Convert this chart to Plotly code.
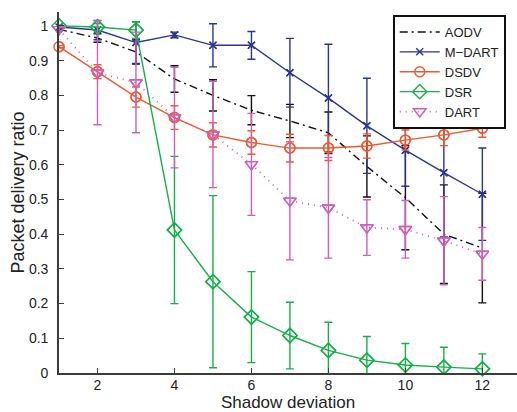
import plotly.graph_objects as go

# Shadow deviation values on the x axis
shadow_dev = [1, 2, 3, 4, 5, 6, 7, 8, 9, 10, 11, 12]

# Mean packet delivery ratio per protocol, with symmetric error half-widths
aodv_pdr = [0.99, 0.965, 0.925, 0.847, 0.80, 0.757, 0.726, 0.692, 0.595, 0.505, 0.40, 0.36]
aodv_err = [0.005, 0.012, 0.035, 0.038, 0.045, 0.042, 0.048, 0.06, 0.088, 0.15, 0.142, 0.158]

mdart_pdr = [0.997, 0.988, 0.952, 0.974, 0.944, 0.944, 0.865, 0.792, 0.712, 0.642, 0.577, 0.515]
mdart_err = [0.003, 0.028, 0.06, 0.008, 0.062, 0.04, 0.099, 0.155, 0.137, 0.104, 0.185, 0.133]

dsdv_pdr = [0.94, 0.868, 0.795, 0.736, 0.686, 0.664, 0.648, 0.648, 0.654, 0.671, 0.686, 0.705]
dsdv_err = [0.003, 0.02, 0.029, 0.034, 0.035, 0.034, 0.04, 0.036, 0.035, 0.029, 0.031, 0.026]

dsr_pdr = [1.0, 0.997, 0.988, 0.412, 0.263, 0.161, 0.108, 0.065, 0.037, 0.023, 0.017, 0.012]
dsr_err = [0.003, 0.01, 0.024, 0.212, 0.248, 0.131, 0.096, 0.081, 0.068, 0.062, 0.057, 0.043]

dart_pdr = [0.99, 0.865, 0.837, 0.736, 0.687, 0.601, 0.496, 0.476, 0.419, 0.414, 0.381, 0.343]
dart_err = [0.005, 0.15, 0.145, 0.145, 0.153, 0.147, 0.17, 0.145, 0.08, 0.083, 0.127, 0.076]

y_ticks = [0, 0.1, 0.2, 0.3, 0.4, 0.5, 0.6, 0.7, 0.8, 0.9, 1.0]
y_tick_text = ["0", "0.1", "0.2", "0.3", "0.4", "0.5", "0.6", "0.7", "0.8", "0.9", "1"]
x_ticks = [2, 4, 6, 8, 10, 12]

series = [
    dict(name="AODV", y=aodv_pdr, err=aodv_err, color="#111111", dash="8px,4px,2px,4px",
         symbol=None, size=0),
    dict(name="M\u2212DART", y=mdart_pdr, err=mdart_err, color="#2B3692", dash="solid",
         symbol="x-thin", size=7),
    dict(name="DSDV", y=dsdv_pdr, err=dsdv_err, color="#F2582C", dash="solid",
         symbol="circle-open", size=10),
    dict(name="DSR", y=dsr_pdr, err=dsr_err, color="#16B04A", dash="solid",
         symbol="diamond-open", size=11),
    dict(name="DART", y=dart_pdr, err=dart_err, color="#D45EB4", dash="1px,5px",
         symbol="triangle-down-open", size=11),
]

fig = go.Figure()
for s in series:
    has_marker = s["symbol"] is not None
    marker = dict(symbol=s["symbol"], size=s["size"], color=s["color"],
                  line=dict(color=s["color"], width=1.4)) if has_marker else None
    # Line, markers and error bars (clipped to the plotting area)
    fig.add_trace(go.Scatter(
        x=shadow_dev, y=s["y"], name=s["name"],
        mode="lines+markers" if has_marker else "lines",
        line=dict(color=s["color"], width=1.4 if s["name"] != "DART" else 1.8, dash=s["dash"]),
        marker=marker,
        error_y=dict(type="data", array=s["err"], visible=True, color=s["color"],
                     thickness=1.4, width=4),
        legendgroup=s["name"],
    ))
    # Markers again, unclipped so edge points stay whole
    if has_marker:
        fig.add_trace(go.Scatter(
            x=shadow_dev, y=s["y"], mode="markers", marker=marker,
            cliponaxis=False, showlegend=False, legendgroup=s["name"],
            hoverinfo="skip",
        ))

axis_common = dict(
    showgrid=False, zeroline=False, showline=True, linecolor="#3c3c3c", linewidth=1.6,
    ticks="inside", ticklen=5, tickwidth=1.2, tickcolor="#3c3c3c",
    tickfont=dict(family="Liberation Sans, Arial, sans-serif", size=14, color="#222222"),
    mirror=False,
)

fig.update_layout(
    width=517, height=412,
    margin=dict(l=59, r=0, t=12, b=39),
    plot_bgcolor="white", paper_bgcolor="white",
    font=dict(family="Liberation Sans, Arial, sans-serif", color="#222222"),
    xaxis=dict(axis_common, range=[1, 12.9], tickvals=x_ticks, ticklabelstandoff=-2,
               title=dict(text="Shadow deviation", font=dict(size=17), standoff=5)),
    yaxis=dict(axis_common, range=[0, 1.04], tickvals=y_ticks, ticktext=y_tick_text,
               ticklabelstandoff=6,
               title=dict(text="Packet delivery ratio", font=dict(size=18), standoff=0)),
    legend=dict(x=0.7287, y=0.9917, xanchor="left", yanchor="top",
                bordercolor="#111111", borderwidth=2, bgcolor="white",
                font=dict(size=13, color="#222222"), tracegroupgap=0,
                itemwidth=40),
    showlegend=True,
)

fig.write_html("out.html")
